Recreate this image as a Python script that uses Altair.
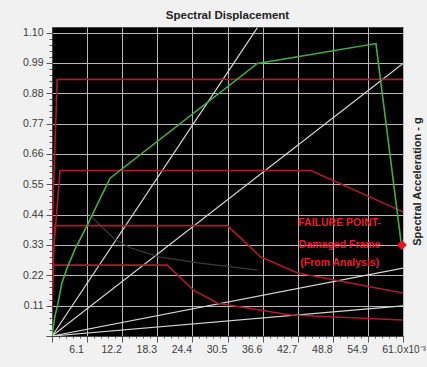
import altair as alt
import pandas as pd

# ---------------- data ----------------
# capacity curve (green)
green_sd = [0.0, 0.5, 1.05, 1.7, 2.6, 4.0, 6.1, 8.4, 10.1, 35.7, 56.3, 60.7]
green_sa = [0.0, 0.07, 0.12, 0.19, 0.245, 0.315, 0.40, 0.50, 0.572, 0.988, 1.06, 0.333]

# demand spectra (red)
red1_sd = [0.0, 0.9, 61.0]
red1_sa = [0.37, 0.93, 0.93]
red2_sd = [0.0, 1.4, 45.0, 61.0]
red2_sa = [0.24, 0.60, 0.60, 0.45]
red3_sd = [0.0, 0.5, 30.5, 36.3, 42.7, 61.0]
red3_sa = [0.16, 0.40, 0.40, 0.286, 0.228, 0.156]
red4_sd = [0.0, 0.3, 20.0, 24.6, 28.8, 41.5, 61.0]
red4_sa = [0.10, 0.257, 0.257, 0.166, 0.119, 0.076, 0.058]

# dark grey curve
grey_sd = [6.6, 8.4, 11.0, 13.6, 18.8, 25.8, 35.7]
grey_sa = [0.44, 0.40, 0.35, 0.32, 0.286, 0.264, 0.239]

# radial period lines (white), end points
white_end_sd = [35.7, 61.0, 61.0, 61.0]
white_end_sa = [1.118, 0.988, 0.246, 0.109]

# failure point
fail_sd = [60.8]
fail_sa = [0.33]

# annotation
note_text = ["FAILURE POINT-", "Damaged Frame", "(From Analysis)"]
note_sd = [50.0, 50.0, 50.0]
note_sa = [0.41, 0.329, 0.266]

# axis ticks
x_major = [6.1, 12.2, 18.3, 24.4, 30.5, 36.6, 42.7, 48.8, 54.9, 61.0]
y_major = [0.11, 0.22, 0.33, 0.44, 0.55, 0.66, 0.77, 0.88, 0.99, 1.10]

# ---------------- helpers ----------------
def frame(sd, sa, name):
    return pd.DataFrame({"sd": sd, "sa": sa, "order": list(range(len(sd))), "series": name})

x_ticks = sorted(set([round(i * 1.22, 3) for i in range(0, 51)] + x_major))
y_ticks = sorted(set([round(i * 0.022, 3) for i in range(0, 51)] + y_major))

FONT = "Liberation Sans"
XMAJ = "abs(datum.value/6.1 - round(datum.value/6.1)) < 0.01"
YMAJ = "abs(datum.value*100/11 - round(datum.value*100/11)) < 0.01"

x_axis = alt.Axis(
    values=x_ticks,
    labelExpr=XMAJ + " && datum.value > 0 ? format(datum.value, '.1f') : ''",
    tickSize={"condition": {"test": XMAJ, "value": 6}, "value": 2},
    gridOpacity={"condition": {"test": XMAJ, "value": 1}, "value": 0},
    gridColor="#b8b8b8", gridWidth=1,
    tickColor="#555555", domainColor="#444444",
    labelFont=FONT, labelFontSize=10.5, labelColor="#3a3a3a",
    labelOffset=-11, labelPadding=2, labelFlush=False, labelOverlap=False,
    title="x10⁻³", titleFont=FONT, titleFontSize=10, titleFontWeight="normal", titleColor="#3a3a3a",
    titleX=351, titleY=13, titleAlign="left", titleBaseline="middle",
)
y_axis = alt.Axis(
    values=y_ticks,
    labelExpr=YMAJ + " && datum.value > 0 ? format(datum.value, '.2f') : ''",
    tickSize={"condition": {"test": YMAJ, "value": 6}, "value": 3},
    gridOpacity={"condition": {"test": YMAJ, "value": 1}, "value": 0},
    gridColor="#b8b8b8", gridWidth=1,
    tickColor="#555555", domainColor="#444444",
    labelFont=FONT, labelFontSize=10.5, labelColor="#3a3a3a", labelPadding=3, labelOverlap=False,
    title=None,
)
right_axis = alt.Axis(
    orient="right", labels=False, ticks=False, domain=False, grid=False,
    title="Spectral Acceleration - g", titleFont=FONT, titleFontSize=11, titleFontWeight="bold",
    titleColor="#222222", titleAngle=270, titleX=14, titleY=154,
    titleAlign="center", titleBaseline="middle",
)

xs = alt.Scale(domain=[0, 61.0], nice=False, zero=False)
ys = alt.Scale(domain=[0, 1.12], nice=False, zero=False)
X = alt.X("sd:Q", scale=xs, axis=x_axis)
Y = alt.Y("sa:Q", scale=ys, axis=y_axis)

RED = "#ad1a2c"

white_df = pd.concat(
    [frame([0.0, e_sd], [0.0, e_sa], f"w{i}") for i, (e_sd, e_sa) in enumerate(zip(white_end_sd, white_end_sa))]
)
white = alt.Chart(white_df).mark_line(color="#d6d6d6", strokeWidth=1.2, clip=True).encode(
    x=X, y=Y, detail="series:N", order="order:Q")

grey = alt.Chart(frame(grey_sd, grey_sa, "grey")).mark_line(color="#3c3c3c", strokeWidth=1.2, clip=True).encode(
    x=X, y=Y, order="order:Q")

reds = []
for i, (sd, sa) in enumerate([(red1_sd, red1_sa), (red2_sd, red2_sa), (red3_sd, red3_sa), (red4_sd, red4_sa)]):
    reds.append(alt.Chart(frame(sd, sa, f"r{i}")).mark_line(color=RED, strokeWidth=1.6, clip=True).encode(
        x=X, y=Y, order="order:Q"))

green = alt.Chart(frame(green_sd, green_sa, "green")).mark_line(color="#3fae45", strokeWidth=1.6, clip=True).encode(
    x=X, y=Y, order="order:Q")

note = alt.Chart(pd.DataFrame({"sd": note_sd, "sa": note_sa, "t": note_text})).mark_text(
    color="#e81e2a", font=FONT, fontSize=10.5, fontWeight="bold", align="center", baseline="middle"
).encode(x=X, y=Y, text="t:N")

main = alt.layer(white, grey, *reds, green, note)

fail = alt.Chart(frame(fail_sd, fail_sa, "fail")).mark_point(
    shape="diamond", filled=True, size=100, color="#e8141c", opacity=1, clip=False
).encode(x=X, y=alt.Y("sa:Q", scale=ys, axis=right_axis))

chart = alt.layer(main, fail).resolve_axis(y="independent").properties(
    width=351, height=309,
    padding={"left": 52, "top": 27, "right": 24, "bottom": 31},
    autosize=alt.AutoSizeParams(type="none"),
    background="#f1f1f1",
    title=alt.TitleParams("Spectral Displacement", font=FONT, fontSize=11.5, fontWeight="bold",
                          color="#222222", anchor="middle", offset=6),
).configure_view(fill="black", stroke="#444444")

chart.save("out.html", embed_options={"renderer": "svg", "actions": False})
